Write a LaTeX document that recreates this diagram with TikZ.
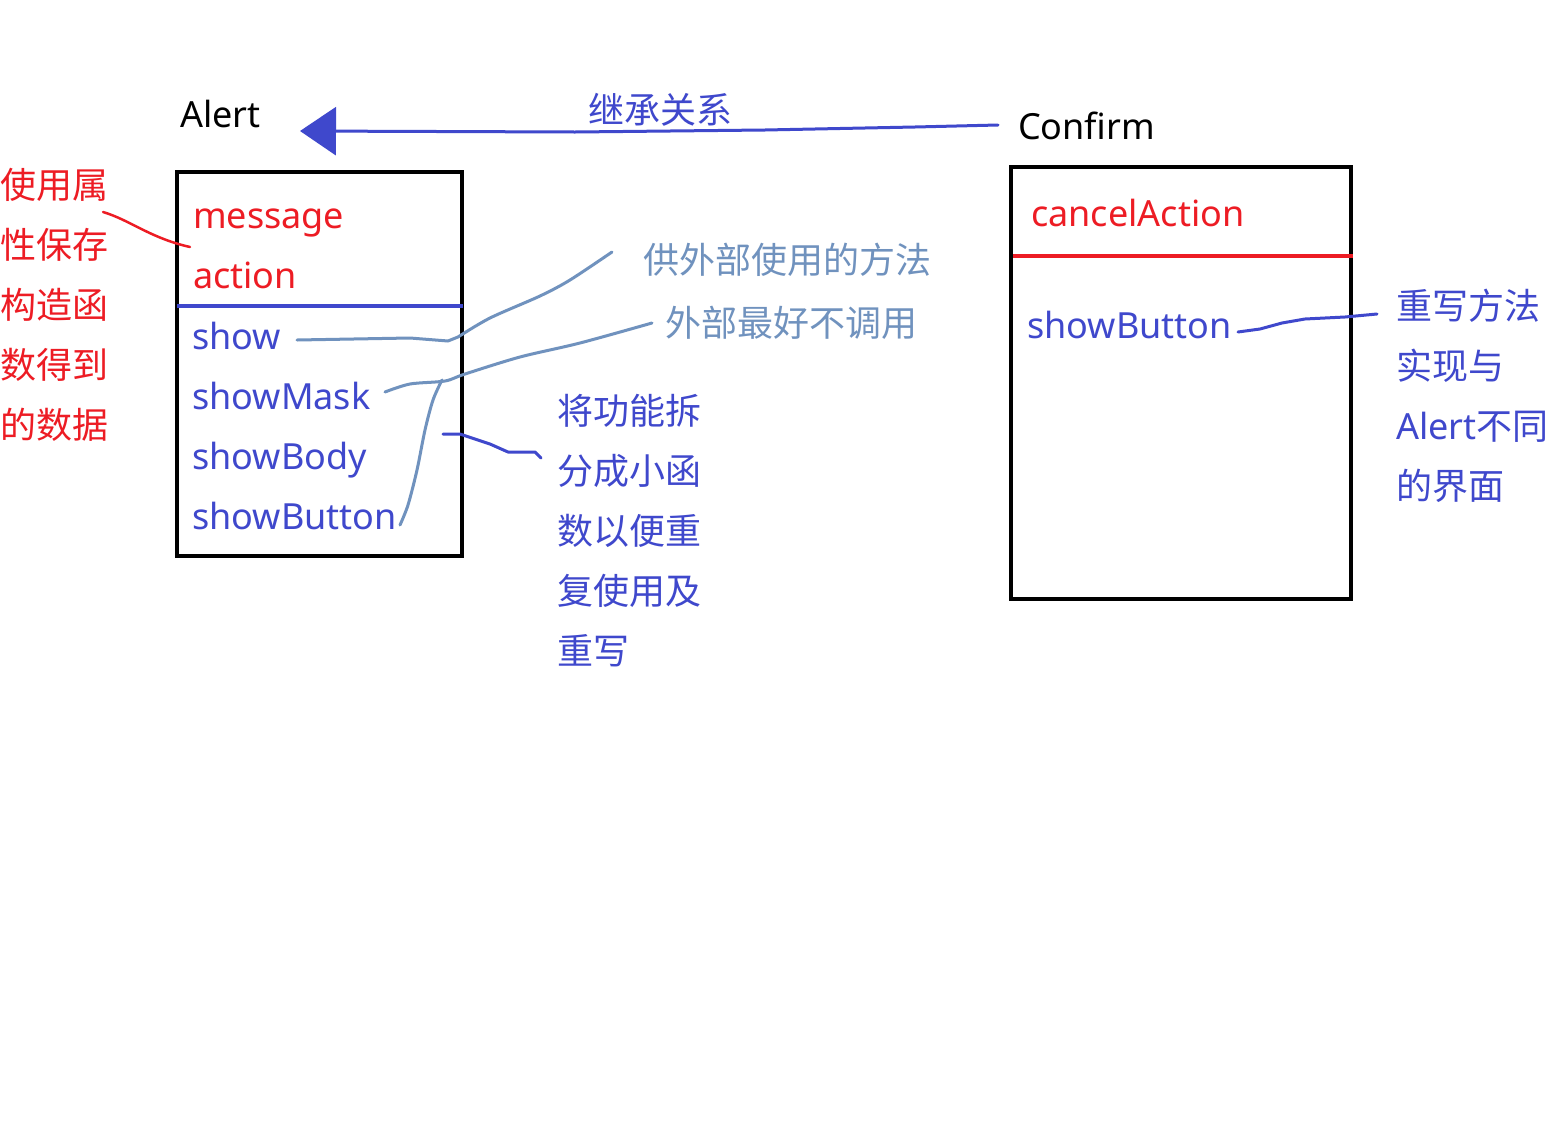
\documentclass[tikz,border=0pt]{standalone}
\usepackage{fontspec}
\setmainfont{Noto Sans}
\newfontfamily\cjk{Noto Sans CJK SC}
\usetikzlibrary{arrows.meta}
\definecolor{pblue}{HTML}{3F48CC}
\definecolor{pred}{HTML}{ED1C24}
\definecolor{plight}{HTML}{7092BE}
\tikzset{
  txt/.style={anchor=base west,inner sep=0pt,font=\fontsize{36}{42}\selectfont},
  cjktxt/.style={anchor=west,inner sep=0pt,font=\fontsize{36}{42}\selectfont\cjk},
  boxline/.style={line width=4pt,draw=black},
  stroke/.style={line width=3pt,line cap=round,line join=round},
}
\begin{document}
\begin{tikzpicture}[x=1pt,y=-1pt]
\useasboundingbox[fill=white] (0,0) rectangle (1567,1125);
% titles
\node[txt] (alert) at (180,127) {Alert};
\node[txt] (confirm) at (1018,139) {Confirm};
\node[cjktxt,text=pblue] (inh) at (588,110) {继承关系};
% inheritance arrow
\coordinate (arrS) at (998,125);
\coordinate (arrT) at (300,131);
\draw[stroke,pblue,-{Triangle[length=36pt,width=48pt]}] (arrS) -- (915,127) -- (765,130) -- (575,132) -- (arrT);
% Alert box
\draw[boxline] (177,172) rectangle (462,556);
\coordinate (sepL) at (177,306);
\coordinate (sepR) at (463,306);
\draw[line width=4pt,pblue] (sepL) -- (sepR);
\node[txt,text=pred] (msg) at (193,228) {message};
\node[txt,text=pred] (act) at (193,288) {action};
\node[txt,text=pblue] (show) at (192,349) {show};
\node[txt,text=pblue] (smask) at (192,409) {showMask};
\node[txt,text=pblue] (sbody) at (192,469) {showBody};
\node[txt,text=pblue] (sbtn) at (192,529) {showButton};
% left red notes
\foreach \t/\y/\n in {使用属/185/r1,性保存/245/r2,构造函/305/r3,数得到/365/r4,的数据/425/r5}
  \node[cjktxt,text=pred] (\n) at (0,\y) {\t};
\coordinate (rc1) at (103,212);
\coordinate (rc2) at (190,247);
\draw[stroke,pred,line width=2.5pt] (rc1) .. controls (130,220) and (150,238) .. (rc2);
% light blue notes
\node[cjktxt,text=plight] (pub) at (643,260) {供外部使用的方法};
\node[cjktxt,text=plight] (priv) at (665,323) {外部最好不调用};
\coordinate (l1s) at (297,340);
\coordinate (l1e) at (612,252);
\draw[stroke,plight] (l1s) -- (410,338) -- (448,341) -- (458,337) plot[smooth] coordinates {(458,337) (490,318) (540,296) (570,280) (l1e)};
\coordinate (l2s) at (385,392);
\coordinate (l2e) at (652,323);
\draw[stroke,plight] plot[smooth] coordinates {(l2s) (410,384) (445,381) (465,374) (520,357) (580,343) (l2e)};
\coordinate (l3s) at (442,380);
\coordinate (l3e) at (400,525);
\draw[stroke,plight] plot[smooth] coordinates {(l3s) (433,400) (425,430) (417,470) (408,505) (l3e)};
% split note
\foreach \t/\y/\n in {将功能拆/411/s1,分成小函/471/s2,数以便重/531/s3,复使用及/591/s4,重写/651/s5}
  \node[cjktxt,text=pblue] (\n) at (557,\y) {\t};
\coordinate (d1) at (443,434);
\coordinate (d2) at (541,458);
\draw[stroke,pblue] (d1) -- (460,434) -- (490,444) -- (508,452) -- (535,452) -- (d2);
% Confirm box
\draw[boxline] (1011,167) rectangle (1351,599);
\coordinate (csL) at (1013,256);
\coordinate (csR) at (1353,256);
\draw[line width=4pt,pred] (csL) -- (csR);
\node[txt,text=pred] (cancel) at (1031,226) {cancelAction};
\node[txt,text=pblue] (csbtn) at (1027,338) {showButton};
\coordinate (c1) at (1238,332);
\coordinate (c2) at (1377,314);
\draw[stroke,pblue] (c1) -- (1260,329) -- (1282,323) -- (1305,319) -- (1345,317) -- (c2);
% right notes
\node[cjktxt,text=pblue] (o1) at (1396,306) {重写方法};
\node[cjktxt,text=pblue] (o2) at (1396,366) {实现与};
\node[txt,text=pblue] (o3) at (1396,439) {Alert{\cjk 不同}};
\node[cjktxt,text=pblue] (o4) at (1396,486) {的界面};
\end{tikzpicture}
\end{document}
